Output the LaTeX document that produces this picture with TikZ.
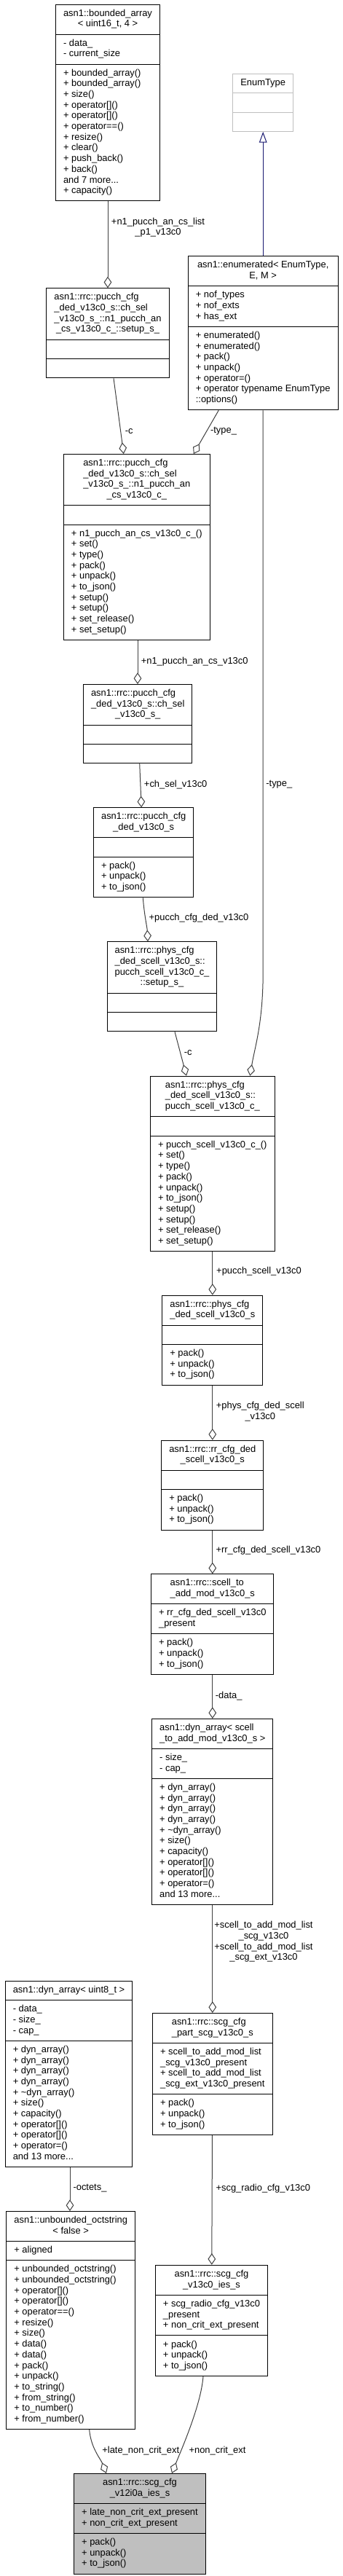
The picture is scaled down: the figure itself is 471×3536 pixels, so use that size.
\documentclass[tikz,border=0pt]{standalone}
\usepackage{fontspec}
\setmainfont{Liberation Sans}
\usepackage{tikz}
\usetikzlibrary{calc,positioning,shapes.multipart,arrows.meta}

\definecolor{grey25}{HTML}{404040}
\definecolor{grey75}{HTML}{BFBFBF}
\definecolor{midnightblue}{HTML}{191970}

\newcommand{\members}[1]{\begin{tabular}{@{}l@{}}#1\end{tabular}}
\newcommand{\tcenter}[1]{\multicolumn{1}{@{}c@{}}{#1}}

\begin{document}
\begin{tikzpicture}[x=1pt,y=-1pt,
  cls/.style={rectangle split,rectangle split parts=3,draw=black,fill=white,line width=1pt,
    rectangle split part align={center,left,left},inner xsep=10.5pt,inner ysep=5.33pt,
    font=\fontsize{12.9}{14.67}\selectfont,anchor=north},
  undoc/.style={cls,draw=grey75},
  aggr/.style={draw=grey25,line width=1pt,-{Diamond[open,length=15.7pt,width=10.7pt]}},
  inh/.style={draw=midnightblue,line width=1pt,-{Triangle[open,length=14.7pt,width=10.7pt]}},
  lbl/.style={font=\fontsize{12.9}{14.67}\selectfont,align=center,inner sep=0pt}]
  \useasboundingbox (0,0) rectangle (471,3536);

  \node[cls] (bounded) at (148,5.7) {\members{asn1::bounded\_array\\\tcenter{< uint16\_t, 4 >}}
    \nodepart{two}\members{- data\_\\- current\_size}
    \nodepart{three}\members{+ bounded\_array()\\+ bounded\_array()\\+ size()\\+ operator[]()\\+ operator[]()\\+ operator==()\\+ resize()\\+ clear()\\+ push\_back()\\+ back()\\and 7 more...\\+ capacity()}};
  \node[undoc] (enumtype) at (361.2,101) {\members{EnumType}\nodepart{two}\strut\nodepart{three}\strut};
  \node[cls] (setup) at (148,395.3) {\members{asn1::rrc::pucch\_cfg\\\_ded\_v13c0\_s::ch\_sel\\\_v13c0\_s\_::n1\_pucch\_an\\\tcenter{\_cs\_v13c0\_c\_::setup\_s\_}}
    \nodepart{two}\strut\nodepart{three}\strut};
  \node[cls] (enumerated) at (361.2,351.3) {\members{asn1::enumerated< EnumType,\\\tcenter{E, M >}}
    \nodepart{two}\members{+ nof\_types\\+ nof\_exts\\+ has\_ext}
    \nodepart{three}\members{+ enumerated()\\+ enumerated()\\+ pack()\\+ unpack()\\+ operator=()\\+ operator typename EnumType\\::options()}};
  \node[cls] (n1) at (187.8,623) {\members{asn1::rrc::pucch\_cfg\\\_ded\_v13c0\_s::ch\_sel\\\_v13c0\_s\_::n1\_pucch\_an\\\tcenter{\_cs\_v13c0\_c\_}}
    \nodepart{two}\strut
    \nodepart{three}\members{+ n1\_pucch\_an\_cs\_v13c0\_c\_()\\+ set()\\+ type()\\+ pack()\\+ unpack()\\+ to\_json()\\+ setup()\\+ setup()\\+ set\_release()\\+ set\_setup()}};
  \node[cls] (chsel) at (189.2,939) {\members{asn1::rrc::pucch\_cfg\\\_ded\_v13c0\_s::ch\_sel\\\tcenter{\_v13c0\_s\_}}
    \nodepart{two}\strut\nodepart{three}\strut};
  \node[cls] (pucchded) at (197.2,1108.3) {\members{asn1::rrc::pucch\_cfg\\\tcenter{\_ded\_v13c0\_s}}
    \nodepart{two}\strut
    \nodepart{three}\members{+ pack()\\+ unpack()\\+ to\_json()}};
  \node[cls] (psetup) at (222.5,1292.3) {\members{asn1::rrc::phys\_cfg\\\_ded\_scell\_v13c0\_s::\\pucch\_scell\_v13c0\_c\_\\\tcenter{::setup\_s\_}}
    \nodepart{two}\strut\nodepart{three}\strut};
  \node[cls] (pscell) at (291.8,1476.7) {\members{asn1::rrc::phys\_cfg\\\_ded\_scell\_v13c0\_s::\\\tcenter{pucch\_scell\_v13c0\_c\_}}
    \nodepart{two}\strut
    \nodepart{three}\members{+ pucch\_scell\_v13c0\_c\_()\\+ set()\\+ type()\\+ pack()\\+ unpack()\\+ to\_json()\\+ setup()\\+ setup()\\+ set\_release()\\+ set\_setup()}};
  \node[cls] (physded) at (291.8,1777.7) {\members{asn1::rrc::phys\_cfg\\\tcenter{\_ded\_scell\_v13c0\_s}}
    \nodepart{two}\strut
    \nodepart{three}\members{+ pack()\\+ unpack()\\+ to\_json()}};
  \node[cls] (rrded) at (291.8,1976.7) {\members{asn1::rrc::rr\_cfg\_ded\\\tcenter{\_scell\_v13c0\_s}}
    \nodepart{two}\strut
    \nodepart{three}\members{+ pack()\\+ unpack()\\+ to\_json()}};
  \node[cls] (scelladd) at (291.8,2160.3) {\members{asn1::rrc::scell\_to\\\tcenter{\_add\_mod\_v13c0\_s}}
    \nodepart{two}\members{+ rr\_cfg\_ded\_scell\_v13c0\\\_present}
    \nodepart{three}\members{+ pack()\\+ unpack()\\+ to\_json()}};
  \node[cls] (dynscell) at (291.8,2359) {\members{asn1::dyn\_array< scell\\\tcenter{\_to\_add\_mod\_v13c0\_s >}}
    \nodepart{two}\members{- size\_\\- cap\_}
    \nodepart{three}\members{+ dyn\_array()\\+ dyn\_array()\\+ dyn\_array()\\+ dyn\_array()\\+ \textasciitilde dyn\_array()\\+ size()\\+ capacity()\\+ operator[]()\\+ operator[]()\\+ operator=()\\and 13 more...}};
  \node[cls] (scgpart) at (291.8,2763) {\members{asn1::rrc::scg\_cfg\\\tcenter{\_part\_scg\_v13c0\_s}}
    \nodepart{two}\members{+ scell\_to\_add\_mod\_list\\\_scg\_v13c0\_present\\+ scell\_to\_add\_mod\_list\\\_scg\_ext\_v13c0\_present}
    \nodepart{three}\members{+ pack()\\+ unpack()\\+ to\_json()}};
  \node[cls] (dynu8) at (94.5,2719) {\members{asn1::dyn\_array< uint8\_t >}
    \nodepart{two}\members{- data\_\\- size\_\\- cap\_}
    \nodepart{three}\members{+ dyn\_array()\\+ dyn\_array()\\+ dyn\_array()\\+ dyn\_array()\\+ \textasciitilde dyn\_array()\\+ size()\\+ capacity()\\+ operator[]()\\+ operator[]()\\+ operator=()\\and 13 more...}};
  \node[cls] (octstr) at (97.2,3035) {\members{asn1::unbounded\_octstring\\\tcenter{< false >}}
    \nodepart{two}\members{+ aligned}
    \nodepart{three}\members{+ unbounded\_octstring()\\+ unbounded\_octstring()\\+ operator[]()\\+ operator[]()\\+ operator==()\\+ resize()\\+ size()\\+ data()\\+ data()\\+ pack()\\+ unpack()\\+ to\_string()\\+ from\_string()\\+ to\_number()\\+ from\_number()}};
  \node[cls] (scgv13) at (290.5,3108.7) {\members{asn1::rrc::scg\_cfg\\\tcenter{\_v13c0\_ies\_s}}
    \nodepart{two}\members{+ scg\_radio\_cfg\_v13c0\\\_present\\+ non\_crit\_ext\_present}
    \nodepart{three}\members{+ pack()\\+ unpack()\\+ to\_json()}};
  \node[cls,fill=grey75] (main) at (192,3395) {\members{asn1::rrc::scg\_cfg\\\tcenter{\_v12i0a\_ies\_s}}
    \nodepart{two}\members{+ late\_non\_crit\_ext\_present\\+ non\_crit\_ext\_present}
    \nodepart{three}\members{+ pack()\\+ unpack()\\+ to\_json()}};

  % connectors
  \draw[inh] (enumerated) -- (enumtype);
  \draw[aggr] (bounded) -- (setup) node[lbl] at (217,312) {+n1\_pucch\_an\_cs\_list\\\_p1\_v13c0};
  \draw[aggr] ($(setup.south)+(8,0)$) -- ($(n1.north)+(-18,0)$) node[lbl] at (177.2,592) {-c};
  \draw[aggr] ($(enumerated.south)+(-61,0)$) -- ($(n1.north)+(78,0)$) node[lbl] at (307,592) {-type\_};
  \draw[aggr] ($(n1.south)+(1.2,0)$) -- ($(chsel.north)+(-0.2,0)$) node[lbl] at (267.2,908) {+n1\_pucch\_an\_cs\_v13c0};
  \draw[aggr] ($(chsel.south)+(2.5,0)$) -- ($(pucchded.north)+(-3,0)$) node[lbl] at (241.2,1077) {+ch\_sel\_v13c0};
  \draw[aggr] ($(pucchded.south)+(-0.9,0)$) .. controls +(2,25) and +(-1,-20) .. ($(psetup.north)+(-19.5,0)$) node[lbl] at (273,1260.5) {+pucch\_cfg\_ded\_v13c0};
  \draw[aggr] ($(psetup.south)+(17.5,0)$) -- ($(pscell.north)+(-35.8,0)$) node[lbl] at (258.3,1445) {-c};
  \draw[aggr] (enumerated.south) -- ++(0,771) .. controls +(0,70) and +(6.7,-40) .. ($(pscell.north)+(51.5,0)$) node[lbl] at (383.3,1077) {-type\_};
  \draw[aggr] (pscell) -- (physded) node[lbl] at (355.5,1745.5) {+pucch\_scell\_v13c0};
  \draw[aggr] (physded) -- (rrded) node[lbl] at (357.3,1937.5) {+phys\_cfg\_ded\_scell\\\_v13c0};
  \draw[aggr] (rrded) -- (scelladd) node[lbl] at (368.5,2128.5) {+rr\_cfg\_ded\_scell\_v13c0};
  \draw[aggr] (scelladd) -- (dynscell) node[lbl] at (314.2,2328) {-data\_};
  \draw[aggr] (dynscell) -- (scgpart) node[lbl] at (362,2665.5) {+scell\_to\_add\_mod\_list\\\_scg\_v13c0\\+scell\_to\_add\_mod\_list\\\_scg\_ext\_v13c0};
  \draw[aggr] ($(dynu8.south)+(1.5,0)$) -- ($(octstr.north)+(-1.2,0)$) node[lbl] at (123.5,3004) {-octets\_};
  \draw[aggr] (scgpart) -- (scgv13) node[lbl] at (361.3,3004) {+scg\_radio\_cfg\_v13c0};
  \draw[aggr] ($(octstr.south)+(25.5,0)$) .. controls +(2,25) and +(-8,-20) .. ($(main.north)+(-46,0)$) node[lbl] at (193.3,3364) {+late\_non\_crit\_ext};
  \draw[aggr] ($(scgv13.south)+(-11.5,0)$) .. controls +(-3,40) and +(12,-30) .. ($(main.north)+(44,0)$) node[lbl] at (298.5,3364) {+non\_crit\_ext};
\end{tikzpicture}
\end{document}
